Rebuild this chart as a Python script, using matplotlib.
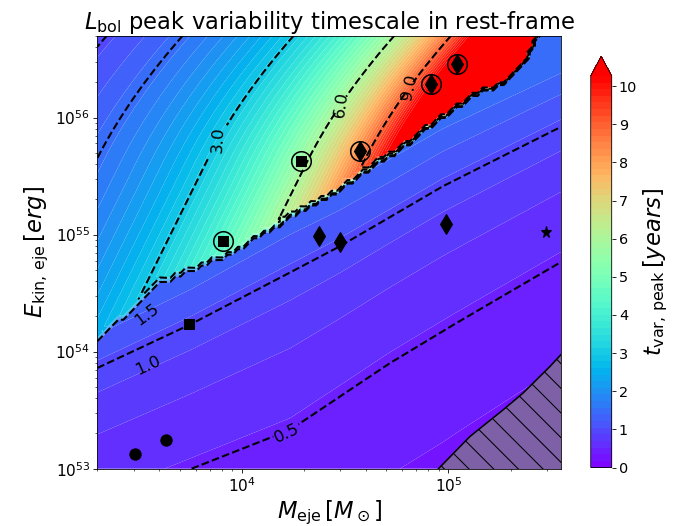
import numpy as np
import matplotlib
matplotlib.use("Agg")
import matplotlib.pyplot as plt

# ---------------- data ----------------
# axis limits
M_lim = [2.0e3, 3.51e5]
E_lim = [1.0e53, 5.0e56]

# discontinuity (jagged boundary) between the two regimes, log10 values
bnd_logM = [3.20, 3.301, 3.604, 3.943, 4.233, 4.491, 4.798, 5.088, 5.282, 5.378, 5.43, 5.60]
bnd_logE = [53.94, 54.102, 54.60, 54.844, 55.158, 55.414, 55.786, 56.163, 56.334, 56.505, 56.70, 57.00]

# upper regime: t = t0 + 10**(logk + slope*u),
# u = logM - b1*dE - b2*max(dE - d0, 0)**2, dE = logE - 55
up_t0, up_logk, up_slope = 0.35, -2.044, 0.675
up_b1, up_b2, up_d0 = 0.28, 0.10, 0.6

# lower regime: t = 0.5 and t = 1.0 iso-lines (log10 values)
lo05_logM = [3.30, 3.782, 4.233, 4.716, 5.04, 5.545]
lo05_logE = [52.68, 53.017, 53.33, 53.90, 54.245, 54.765]
lo10_logM = [3.301, 3.749, 4.233, 4.475, 4.975, 5.545]
lo10_logE = [53.86, 54.23, 54.675, 54.90, 55.414, 55.92]
lo_a, lo_k, lo_c, lo_cap = 0.221, 0.779, 0.446, 1.45

# colour levels and line contour levels
fill_top = 10.27
n_fill = 60
plain_levels = [0.5, 1.0, 1.5]
inline_levels = [3.0, 6.0, 9.0]
inline_M = [7670, 29900, 60300]
inline_E = [6.5e55, 1.30e56, 1.82e56]
text_labels = ["1.5", "1.0", "0.5"]
text_M = [3470, 3520, 16560]
text_E = [2.07e54, 7.7e53, 2.02e53]
text_rot = [37, 25, 25]

# hatched (excluded) region boundary
hatch_M = [8.71e4, 1.27e5, 1.84e5, 2.30e5, 3.10e5, 3.60e5]
hatch_E = [9.5e52, 1.88e53, 3.18e53, 4.43e53, 7.46e53, 9.9e53]

# observed objects
circ_sq_M = [8150, 19300]
circ_sq_E = [8.77e54, 4.25e55]
circ_dm_M = [37300, 82200, 110400]
circ_dm_E = [5.18e55, 1.93e56, 2.86e56]
dm_M = [23600, 29900, 97000]
dm_E = [9.68e54, 8.6e54, 1.24e55]
star_M = [298000]
star_E = [1.05e55]
sq_M = [5570]
sq_E = [1.72e54]
dot_M = [3040, 4300]
dot_E = [1.33e53, 1.75e53]

# ---------------- field ----------------
lx = np.linspace(np.log10(M_lim[0]), np.log10(M_lim[1]), 90)
ly = np.linspace(np.log10(E_lim[0]), np.log10(E_lim[1]), 80)
LX, LY = np.meshgrid(lx, ly)
dE = LY - 55.0
u = LX - up_b1 * dE - up_b2 * np.maximum(dE - up_d0, 0) ** 2
t_up = up_t0 + 10 ** (up_logk + up_slope * u)
L05 = np.interp(LX, lo05_logM, lo05_logE)
L10 = np.interp(LX, lo10_logM, lo10_logE)
z = (LY - L05) / (L10 - L05)
t_lo = np.minimum(lo_a + lo_k * 10 ** (lo_c * (z - 1.0)), lo_cap)
LYb = np.interp(LX, bnd_logM, bnd_logE)
T = np.where(LY > LYb, t_up, t_lo)
Mg, Eg = 10 ** LX, 10 ** LY

# ---------------- figure ----------------
dpi = 74
fig = plt.figure(figsize=(692 / dpi, 526 / dpi), dpi=dpi)
ax = fig.add_axes([97.3 / 692, 1 - 468.7 / 526, (561 - 97.3) / 692, (468.7 - 35.7) / 526])
cax = fig.add_axes([590.7 / 692, 1 - 467.5 / 526, 21 / 692, (467.5 - 56.3) / 526])

levels = np.linspace(0, fill_top, n_fill)
cmap = plt.get_cmap("rainbow")
cf = ax.contourf(Mg, Eg, T, levels=levels, cmap=cmap, extend="max", antialiased=True)
cs_plain = ax.contour(Mg, Eg, T, levels=plain_levels, colors="k", linestyles="--", linewidths=2)
cs_lab = ax.contour(Mg, Eg, T, levels=inline_levels, colors="k", linestyles="--", linewidths=2)
ax.clabel(cs_lab, fmt="%.1f", fontsize=16, inline=True,
          manual=list(zip(inline_M, inline_E)))
for lab, xm, ye, rot in zip(text_labels, text_M, text_E, text_rot):
    kw = {}
    if lab == "0.5":
        kw["bbox"] = dict(boxstyle="square,pad=0.05", fc=cmap(0.45 / fill_top), ec="none")
    ax.text(xm, ye, lab, rotation=rot, fontsize=16, ha="center", va="center",
            rotation_mode="anchor", zorder=4, **kw)

ax.fill_between(hatch_M, hatch_E, 1e52, facecolor="#7d60a5", edgecolor="k",
                hatch="\\", linewidth=1.5, zorder=3)

mk = dict(color="k", linestyle="none", zorder=5)
ax.plot(circ_sq_M, circ_sq_E, marker="s", markersize=10, **mk)
ax.plot(circ_dm_M, circ_dm_E, marker="d", markersize=14, **mk)
ax.plot(circ_sq_M + circ_dm_M, circ_sq_E + circ_dm_E, marker="o", markersize=19,
        markerfacecolor="none", markeredgecolor="k", markeredgewidth=1.5,
        linestyle="none", zorder=5)
ax.plot(dm_M, dm_E, marker="d", markersize=14, **mk)
ax.plot(star_M, star_E, marker="*", markersize=11, **mk)
ax.plot(sq_M, sq_E, marker="s", markersize=10, **mk)
ax.plot(dot_M, dot_E, marker="o", markersize=11, **mk)

ax.set_xscale("log")
ax.set_yscale("log")
ax.set_xlim(M_lim)
ax.set_ylim(E_lim)
ax.tick_params(labelsize=15)
ax.set_xlabel(r"$M_{\rm eje}\,[M_\odot]$", fontsize=22)
ax.set_ylabel(r"$E_{\rm kin,\,eje}\,[erg]$", fontsize=22)
ax.set_title(r"$L_{\rm bol}$ peak variability timescale in rest-frame", fontsize=22)

cb = fig.colorbar(cf, cax=cax, ticks=range(0, 11))
cb.ax.tick_params(labelsize=14)
cb.set_label(r"$t_{\rm var,\,peak}\,[years]$", fontsize=22)

fig.savefig("out.png", dpi=dpi)
